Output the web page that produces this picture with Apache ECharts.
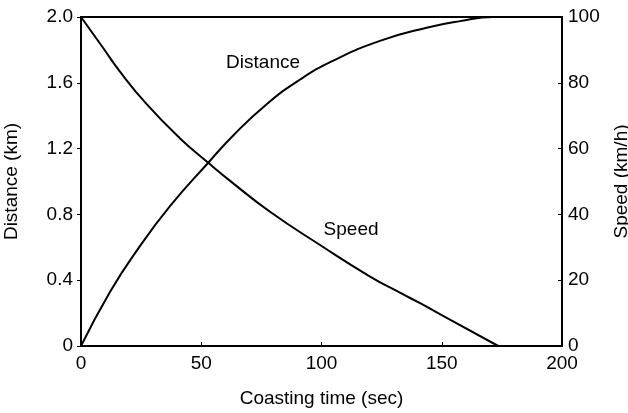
<!DOCTYPE html>
<html>
<head>
<meta charset="utf-8">
<script src="https://cdn.jsdelivr.net/npm/echarts@6/dist/echarts.min.js"></script>
<style>html,body{margin:0;padding:0;background:#fff}#c{width:628px;height:413px}</style>
</head>
<body>
<div id="c"></div>
<script>
// Coasting time (sec) vs speed (km/h)
const speedData = [[0,100],[9.3,90.5],[16.2,83.4],[27.3,73.5],[41.2,63.1],[52.9,55.7],[62,50.2],[78.6,40.8],[99.4,30.7],[120.2,21.1],[132.6,16.2],[141,13.0],[153.4,8.0],[173.5,0]];
// Coasting time (sec) vs distance (km)
const distanceData = [[0,0],[12.1,0.33],[23.2,0.58],[37,0.85],[52.9,1.114],[63.3,1.28],[77.2,1.47],[91.1,1.62],[104.9,1.735],[124.3,1.855],[143.7,1.935],[157.6,1.975],[171.4,2.0],[200,2.0]];
const xTicks = [0,50,100,150,200];
const leftTicks = [0,0.4,0.8,1.2,1.6,2.0];
const rightTicks = [0,20,40,60,80,100];
const curveLabels = {distance:{name:'Distance', at:[75.7,1.72]}, speed:{name:'Speed', at:[112.3,35.3]}};

const font = 'Liberation Sans, Arial, Helvetica, sans-serif';
const fs = 19;
const chart = echarts.init(document.getElementById('c'), null, {renderer:'canvas'});
const lineStyleAxis = {color:'#000', width:2};
chart.setOption({
  animation:false,
  grid:{left:81, right:66, top:17, bottom:67, containLabel:false, outerBoundsMode:'none',
        show:true, borderColor:'#000', borderWidth:2, backgroundColor:'transparent'},
  textStyle:{fontFamily:font},
  xAxis:{type:'value', min:xTicks[0], max:xTicks[xTicks.length-1], interval:50,
    name:'Coasting time (sec)', nameLocation:'middle', nameGap:43,
    nameTextStyle:{fontFamily:font, fontSize:fs, color:'#000'},
    axisLine:{show:true, lineStyle:lineStyleAxis},
    axisTick:{show:true, inside:true, length:4, lineStyle:{color:'#000', width:1}},
    axisLabel:{fontFamily:font, fontSize:fs, color:'#000', margin:8},
    splitLine:{show:false}},
  yAxis:[
    {type:'value', min:leftTicks[0], max:leftTicks[leftTicks.length-1], interval:0.4, position:'left',
     name:'Distance (km)', nameLocation:'middle', nameGap:60, nameRotate:90,
     nameTextStyle:{fontFamily:font, fontSize:fs, color:'#000'},
     axisLine:{show:true, lineStyle:lineStyleAxis},
     axisTick:{show:true, inside:false, length:4, lineStyle:{color:'#000', width:1}},
     axisLabel:{fontFamily:font, fontSize:fs, color:'#000', margin:8,
       formatter:v=> v===0 ? '0' : v.toFixed(1)},
     splitLine:{show:false}},
    {type:'value', min:rightTicks[0], max:rightTicks[rightTicks.length-1], interval:20, position:'right',
     name:'Speed (km/h)', nameLocation:'middle', nameGap:50, nameRotate:90,
     nameTextStyle:{fontFamily:font, fontSize:fs, color:'#000'},
     axisLine:{show:true, lineStyle:lineStyleAxis},
     axisTick:{show:true, inside:true, length:4, lineStyle:{color:'#000', width:1}},
     axisLabel:{fontFamily:font, fontSize:fs, color:'#000', margin:6},
     splitLine:{show:false}}
  ],
  series:[
    {type:'line', name:'Distance', yAxisIndex:0, data:distanceData, smooth:0.5, symbol:'none',
     lineStyle:{color:'#000', width:2}, z:3,
     markPoint:{symbol:'circle', symbolSize:0, silent:true,
       label:{show:true, formatter:curveLabels.distance.name, fontFamily:font, fontSize:fs, color:'#000', position:'inside'},
       data:[{coord:curveLabels.distance.at}]}},
    {type:'line', name:'Speed', yAxisIndex:1, data:speedData, smooth:0.5, symbol:'none',
     lineStyle:{color:'#000', width:2}, z:3,
     markPoint:{symbol:'circle', symbolSize:0, silent:true,
       label:{show:true, formatter:curveLabels.speed.name, fontFamily:font, fontSize:fs, color:'#000', position:'inside'},
       data:[{coord:curveLabels.speed.at}]}}
  ]
});
</script>
</body>
</html>
